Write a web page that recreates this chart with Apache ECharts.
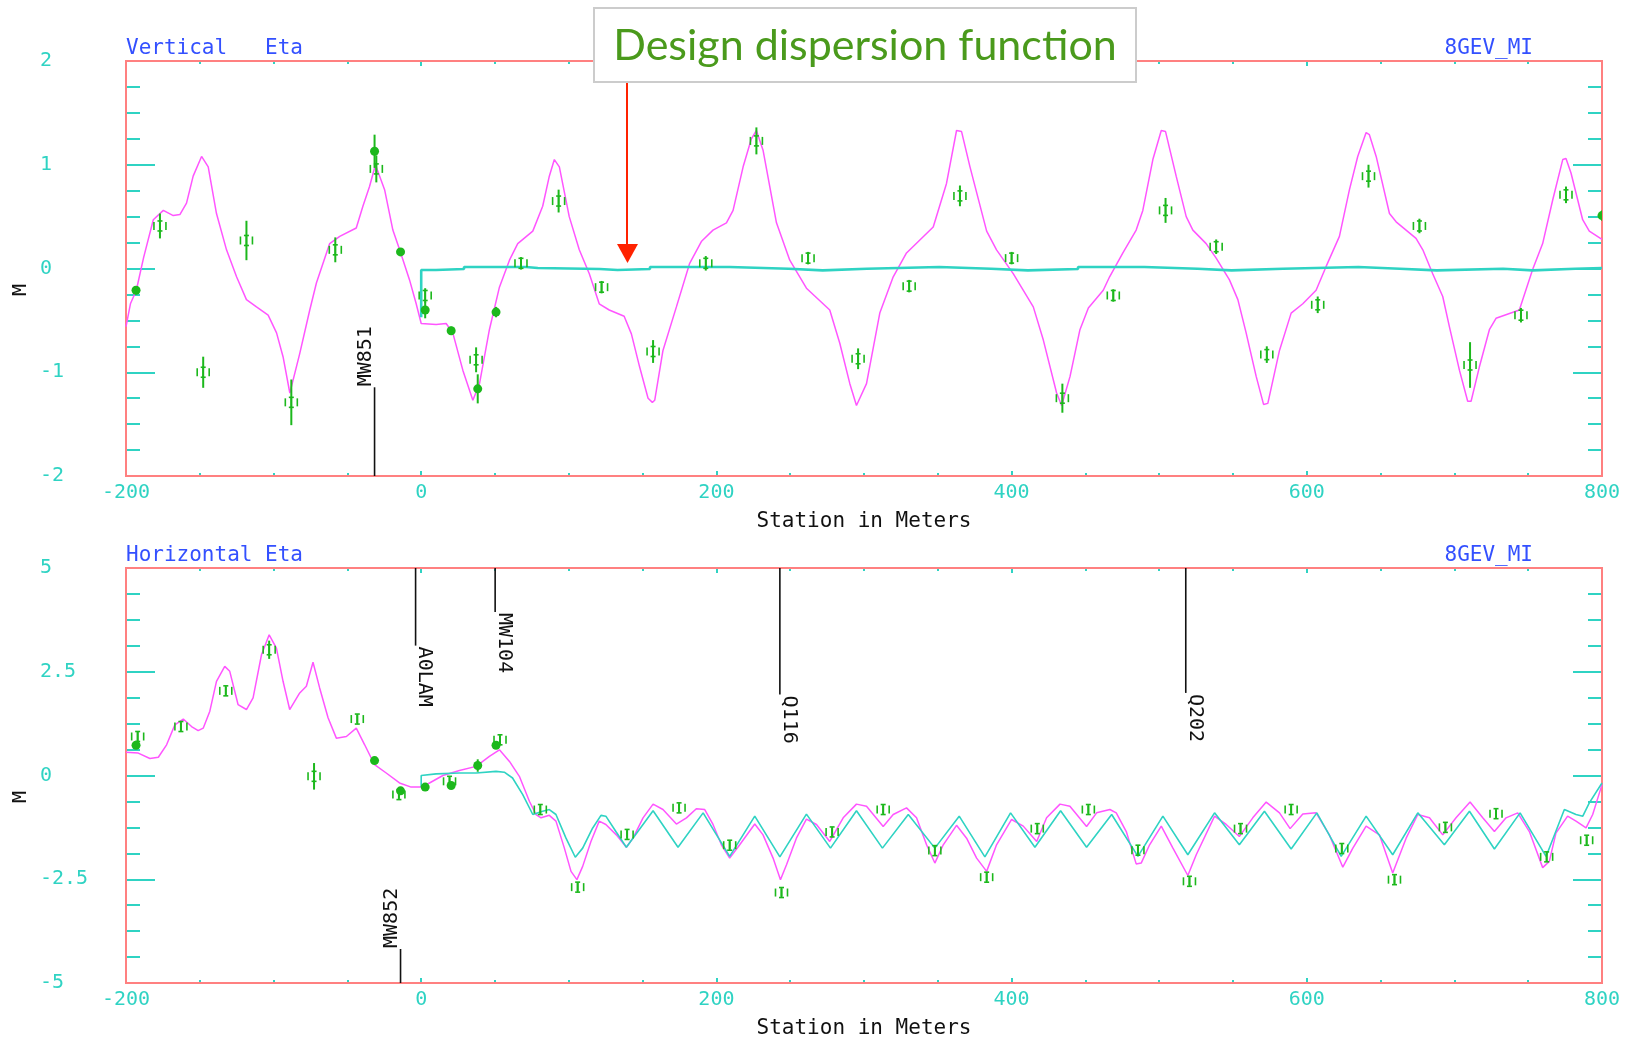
<!DOCTYPE html>
<html><head><meta charset="utf-8">
<script src="https://cdn.jsdelivr.net/npm/echarts@6/dist/echarts.min.js"></script>
<style>html,body{margin:0;padding:0;background:#fff;}#c{width:1633px;height:1039px;}</style>
</head><body><div id="c"></div>
<script>
// ---------------- data ----------------
const stationRange = [-200, 800];
const stationStep = 200;
const vertRange = [-2, 2];
const vertStep = 1;
const horRange = [-5, 5];
const horStep = 2.5;

// Vertical eta: fitted / measured-model curve (magenta)
const vertFit = [[-200,-0.56],[-197,-0.34],[-193,-0.21],[-188,0.11],[-181.5,0.47],[-174.7,0.56],[-168,0.51],[-163.5,0.52],[-159,0.63],[-154.5,0.89],[-148.8,1.08],[-144.3,0.98],[-138.7,0.53],[-131.9,0.18],[-125.1,-0.08],[-118.4,-0.30],[-111.6,-0.37],[-103.7,-0.45],[-98,-0.62],[-93.6,-0.85],[-89,-1.20],[-82.3,-0.82],[-75.5,-0.40],[-71,-0.14],[-62,0.24],[-55.2,0.31],[-44,0.39],[-39.5,0.60],[-35,0.79],[-31,1.0],[-24.8,0.76],[-19.2,0.37],[-14.6,0.18],[-7.9,-0.11],[-3.4,-0.34],[0,-0.53],[1.1,-0.54],[10.1,-0.54],[16.9,-0.53],[21.4,-0.62],[28.2,-0.98],[35,-1.27],[39.5,-1.11],[46.2,-0.59],[53,-0.18],[59.8,0.08],[65.4,0.24],[75.6,0.36],[82.3,0.60],[86.8,0.89],[90.2,1.05],[93.6,0.98],[100.3,0.50],[107.1,0.18],[113.9,-0.05],[120.6,-0.34],[127.4,-0.40],[137.5,-0.46],[142.4,-0.63],[148,-0.95],[153.7,-1.25],[156.6,-1.29],[158.2,-1.27],[163.8,-0.79],[172.9,-0.37],[181.9,0.05],[189.8,0.26],[197.7,0.37],[206.8,0.44],[211.3,0.56],[218.1,0.98],[223.7,1.25],[227.1,1.33],[231.6,1.14],[240.7,0.44],[249.7,0.08],[261,-0.19],[276.8,-0.40],[283.6,-0.72],[290.4,-1.11],[294.9,-1.32],[301.7,-1.11],[310.7,-0.43],[319.8,-0.08],[328.8,0.15],[346.9,0.40],[355.9,0.82],[362.7,1.33],[366.1,1.32],[371.8,0.98],[383.1,0.36],[389.8,0.18],[401.1,-0.05],[414.7,-0.37],[421.5,-0.69],[430.5,-1.20],[433.9,-1.32],[439.6,-1.04],[446.3,-0.59],[452,-0.38],[462.1,-0.21],[466.4,-0.08],[475.4,0.15],[484.4,0.37],[488.9,0.56],[495.7,1.05],[501.4,1.33],[504.3,1.32],[511.5,0.89],[518.3,0.50],[522.8,0.37],[531.8,0.24],[538.6,0.10],[547.6,-0.11],[553.3,-0.30],[558.9,-0.62],[565.7,-1.04],[570.7,-1.31],[573.6,-1.30],[581.5,-0.79],[589.4,-0.43],[597.3,-0.34],[606.3,-0.21],[613.1,0.02],[622.1,0.31],[628.9,0.76],[634.5,1.08],[640.2,1.31],[642.4,1.29],[647,1.08],[656,0.53],[660.5,0.45],[674,0.29],[678.6,0.18],[685.3,-0.05],[692.1,-0.27],[696.6,-0.56],[703.4,-0.98],[709,-1.28],[711.3,-1.28],[716.9,-0.95],[723.7,-0.59],[728.2,-0.48],[744,-0.40],[753,-0.01],[759.8,0.24],[766.6,0.66],[773.4,1.05],[775.6,1.06],[779,0.92],[786.9,0.47],[791.4,0.36],[800,0.28]];

// Vertical eta: design dispersion (cyan, stepwise)
const vertDesign = [[0,-0.47],[0,-0.015],[10,-0.005],[29,0.015],[71,0.005],[79,-0.005],[121,-0.015],[133,-0.005],[155,0.015],[209,-0.002],[249,-0.018],[272,-0.002],[302,0.015],[351,-0.002],[386,-0.018],[411,-0.005],[445,0.015],[490,-0.002],[526,-0.018],[549,-0.002],[584,0.015],[635,-0.002],[663,-0.018],[688,-0.002],[733,-0.018],[753,-0.002],[782,0.005],[800,0.005]];

// Vertical eta: BPM measurements [station, eta, error]
const vertMeasOpen = [[-177,0.41,0.12],[-147.7,-1.00,0.15],[-118.4,0.27,0.19],[-88,-1.29,0.22],[-58.2,0.18,0.12],[-30.4,0.96,0.13],[2.7,-0.26,0.07],[37.2,-0.88,0.12],[67.6,0.05,0.06],[93.1,0.65,0.11],[122.2,-0.18,0.06],[157.1,-0.80,0.11],[192.8,0.05,0.07],[227.1,1.23,0.13],[262.1,0.10,0.06],[296,-0.87,0.10],[330.6,-0.17,0.06],[365,0.70,0.10],[400,0.10,0.06],[434.4,-1.25,0.14],[468.9,-0.26,0.06],[504.3,0.56,0.12],[538.6,0.21,0.07],[572.9,-0.83,0.08],[607.4,-0.35,0.08],[641.8,0.89,0.11],[676.3,0.41,0.07],[710.6,-0.93,0.22],[745.1,-0.45,0.07],[775.6,0.71,0.08]];
const vertMeasFilled = [[-193.2,-0.21,0.04],[-31.6,1.13,0.16],[-14,0.16,0.03],[2.7,-0.40,0.08],[20.3,-0.60,0.04],[38.3,-1.16,0.14],[50.7,-0.42,0.05],[800,0.51,0.05]];

// Vertical eta: element markers [station, from, to]
const vertElements = [[-31.6,-2,-1.145]];
const vertElementNames = ['MW851'];

// Horizontal eta: fitted curve (magenta)
const horFit = [[-200,0.56],[-191.7,0.54],[-183.8,0.41],[-178.1,0.44],[-172.5,0.74],[-166.9,1.22],[-161.2,1.36],[-155.6,1.18],[-151.1,1.08],[-147.7,1.14],[-143.2,1.55],[-138.7,2.27],[-133.1,2.63],[-129.7,2.51],[-124.1,1.71],[-118.4,1.59],[-113.9,1.87],[-108.2,2.91],[-103,3.39],[-98.1,3.07],[-93.6,2.27],[-89.1,1.59],[-82.3,1.99],[-77.8,2.15],[-73.3,2.73],[-68.8,2.11],[-63.1,1.39],[-57.5,0.90],[-50.7,0.94],[-44,1.14],[-38.3,0.74],[-31.6,0.26],[-23.7,0.06],[-14.7,-0.18],[-6.8,-0.28],[0,-0.28],[5.6,-0.18],[14.7,0],[25.9,0.12],[37.2,0.22],[46.2,0.46],[53,0.62],[59.8,0.34],[66.5,-0.02],[73.3,-0.62],[77.8,-0.94],[81.2,-1.02],[86.8,-0.96],[91.3,-1.10],[97,-1.75],[101.5,-2.31],[105.5,-2.51],[109.4,-2.19],[115,-1.59],[120.6,-1.10],[125.1,-1.18],[132.2,-1.43],[139,-1.73],[143.5,-1.51],[150.3,-1.02],[157.1,-0.69],[163.8,-0.82],[172.9,-1.17],[179.7,-1.02],[186.4,-0.80],[192.1,-0.82],[197.7,-1.18],[203.4,-1.67],[209,-1.99],[215.8,-1.67],[226,-1.17],[231.6,-1.43],[238.4,-1.99],[243.4,-2.51],[247.5,-2.15],[254.2,-1.51],[261,-1.05],[267.8,-1.18],[276.8,-1.59],[285.9,-1.02],[294.9,-0.69],[301.7,-0.74],[313,-1.23],[319.8,-0.94],[328.8,-0.78],[335.6,-1.02],[342.4,-1.67],[348,-2.11],[353.7,-1.67],[362.7,-1.20],[369.5,-1.51],[376.3,-1.99],[383.1,-2.31],[389.8,-1.67],[400,-1.06],[407.9,-1.22],[417,-1.59],[423.7,-1.02],[432.8,-0.69],[439.5,-0.74],[450.8,-1.23],[457.6,-0.90],[466.6,-0.82],[470.9,-0.90],[477.7,-1.35],[484.4,-2.13],[487.8,-2.11],[493.5,-1.67],[501.4,-1.22],[509.3,-1.75],[519.4,-2.41],[525.1,-1.91],[537.5,-0.98],[545.4,-1.18],[554.3,-1.47],[563.4,-1.02],[572.5,-0.64],[581.5,-0.90],[588.7,-1.28],[597.3,-0.93],[606.3,-0.90],[615.3,-1.43],[624.4,-2.21],[631.2,-1.75],[640.2,-1.22],[649.2,-1.43],[658.2,-2.35],[667.3,-1.51],[675.2,-0.94],[683.1,-1.02],[692.1,-1.43],[701.1,-1.02],[710.6,-0.64],[719.2,-1.02],[727.1,-1.35],[735,-1.02],[742.9,-0.90],[750.8,-1.35],[759.8,-2.22],[764.3,-2.07],[768.8,-1.39],[776.7,-0.98],[782.4,-1.10],[789.2,-1.26],[793.7,-0.94],[800,-0.22]];

// Horizontal eta: design dispersion (cyan)
const horDesign = [[0,-0.28],[0,0.0],[10.1,0.04],[25.9,0.06],[37.2,0.06],[50.7,0.10],[56.3,0.08],[61.9,-0.06],[68.8,-0.46],[75.6,-0.94],[82.3,-0.86],[86.8,-0.82],[91.3,-0.94],[98.1,-1.51],[104.4,-1.97],[109.4,-1.75],[116.1,-1.27],[121.8,-0.96],[125.1,-0.98],[131.9,-1.35],[139,-1.73],[157.1,-0.85],[174,-1.73],[191,-0.90],[209,-1.95],[226,-0.98],[243,-1.96],[261,-0.93],[277.3,-1.75],[294.9,-0.85],[312.5,-1.75],[330,-0.94],[348,-1.75],[364.5,-0.98],[381.9,-1.96],[399.3,-0.90],[415.8,-1.73],[433.2,-0.85],[450.8,-1.73],[467.8,-0.94],[485.6,-1.95],[502.5,-0.98],[519.4,-1.91],[537.5,-0.90],[554.3,-1.67],[571.3,-0.86],[589.4,-1.77],[606.8,-0.90],[623.3,-1.95],[640.2,-0.98],[658.2,-1.91],[675.2,-0.90],[693.2,-1.67],[710.2,-0.86],[727.1,-1.77],[744.5,-0.90],[762.1,-1.95],[774.5,-0.82],[782.4,-0.94],[787,-0.98],[791.4,-0.66],[800,-0.18]];

// Horizontal eta: BPM measurements [station, eta, error]
const horMeasOpen = [[-192.1,0.94,0.12],[-162.8,1.18,0.1],[-132.4,2.04,0.1],[-103,3.03,0.22],[-72.6,-0.02,0.32],[-43.3,1.36,0.1],[-15.1,-0.46,0.1],[19.2,-0.14,0.1],[53.4,0.86,0.1],[80.7,-0.82,0.1],[106,-2.69,0.1],[139.5,-1.42,0.1],[174.7,-0.78,0.1],[209,-1.68,0.1],[244.1,-2.82,0.1],[278.4,-1.36,0.1],[313,-0.82,0.1],[348,-1.81,0.1],[383.1,-2.45,0.1],[417.4,-1.28,0.1],[452,-0.82,0.1],[485.6,-1.80,0.1],[520.5,-2.55,0.1],[555.1,-1.28,0.1],[589.4,-0.82,0.1],[623.7,-1.76,0.1],[659.4,-2.51,0.1],[693.9,-1.25,0.1],[728.2,-0.92,0.1],[762.5,-1.96,0.1],[789.6,-1.56,0.1]];
const horMeasFilled = [[-193.2,0.73,0.05],[-31.6,0.36,0.05],[-14,-0.37,0.08],[2.7,-0.28,0.05],[20.3,-0.24,0.08],[38.3,0.24,0.15],[50.7,0.73,0.05]];

// Horizontal eta: element markers [station, from, to]
const horElements = [[-3.8,5,3.13],[50.1,5,3.94],[243,5,1.95],[518,5,1.99],[-14,-5,-4.18]];
const horElementNames = ['A0LAM','MW104','Q116','Q202','MW852'];

// ---------------- styles ----------------
const MONO = '"DejaVu Sans Mono", "Liberation Mono", monospace';
const CYAN = '#2fd3c3';
const BORDER = '#ff8080';
const MAGENTA = '#ff55ff';
const GREEN = '#1cb81c';
const BLUE = '#3350ff';

function xAx(grid, pos, main) {
  return {
    type: 'value', gridIndex: grid, position: pos, z: 0,
    min: stationRange[0], max: stationRange[1], interval: stationStep,
    axisLine: {show: true, onZero: false, lineStyle: {color: BORDER, width: 2}},
    axisTick: {show: true, inside: true, length: 5, lineStyle: {color: CYAN, width: 2}},
    minorTick: {show: true, splitNumber: 4, length: 3, lineStyle: {color: CYAN, width: 2}},
    splitLine: {show: false}, minorSplitLine: {show: false},
    axisLabel: {show: main, color: CYAN, fontFamily: MONO, fontSize: 20, margin: 7},
    name: main ? 'Station in Meters' : '', nameLocation: 'middle', nameGap: 35,
    nameTextStyle: {color: '#111', fontFamily: MONO, fontSize: 21}
  };
}
function yAx(grid, pos, main, range, step) {
  return {
    type: 'value', gridIndex: grid, position: pos, z: 0,
    min: range[0], max: range[1], interval: step,
    axisLine: {show: true, onZero: false, lineStyle: {color: BORDER, width: 2}},
    axisTick: {show: true, inside: true, length: 29, lineStyle: {color: CYAN, width: 2}},
    minorTick: {show: true, splitNumber: 4, length: 14, lineStyle: {color: CYAN, width: 2}},
    splitLine: {show: false}, minorSplitLine: {show: false},
    axisLabel: {show: main, color: CYAN, fontFamily: MONO, fontSize: 20, align: 'left', margin: 86}
  };
}

function renderOpen(params, api) {
  const x = api.value(0), y = api.value(1), e = api.value(2);
  const c = api.coord([x, y]);
  const t = api.coord([x, y + e]);
  const b = api.coord([x, y - e]);
  const cx = c[0], cy = c[1];
  const st = {stroke: GREEN, lineWidth: 1.6};
  return {type: 'group', children: [
    {type: 'line', shape: {x1: cx, y1: t[1], x2: cx, y2: b[1]}, style: {stroke: GREEN, lineWidth: 2}},
    {type: 'line', shape: {x1: cx, y1: cy - 5, x2: cx, y2: cy + 5}, style: st},
    {type: 'line', shape: {x1: cx - 2.5, y1: cy - 5, x2: cx + 2.5, y2: cy - 5}, style: st},
    {type: 'line', shape: {x1: cx - 2.5, y1: cy + 5, x2: cx + 2.5, y2: cy + 5}, style: st},
    {type: 'line', shape: {x1: cx - 6, y1: cy - 4, x2: cx - 6, y2: cy + 4}, style: st},
    {type: 'line', shape: {x1: cx + 6, y1: cy - 4, x2: cx + 6, y2: cy + 4}, style: st}
  ]};
}
function renderFilled(params, api) {
  const x = api.value(0), y = api.value(1), e = api.value(2);
  const c = api.coord([x, y]);
  const t = api.coord([x, y + e]);
  const b = api.coord([x, y - e]);
  return {type: 'group', children: [
    {type: 'line', shape: {x1: c[0], y1: t[1], x2: c[0], y2: b[1]}, style: {stroke: GREEN, lineWidth: 2}},
    {type: 'circle', shape: {cx: c[0], cy: c[1], r: 4.5}, style: {fill: GREEN}}
  ]};
}
function renderElem(names) {
  return function (params, api) {
    const x = api.value(0), y0 = api.value(1), y1 = api.value(2);
    const p0 = api.coord([x, y0]), p1 = api.coord([x, y1]);
    const up = y1 > y0;
    return {type: 'group', children: [
      {type: 'line', shape: {x1: p0[0], y1: p0[1], x2: p1[0], y2: p1[1]}, style: {stroke: '#111', lineWidth: 1.6}},
      {type: 'text', x: p1[0] + (up ? 1 : -1), y: p1[1] + (up ? -1 : 1), rotation: up ? Math.PI / 2 : -Math.PI / 2,
        style: {text: names[params.dataIndex], fill: '#111', font: '20px ' + MONO,
          align: 'left', verticalAlign: 'bottom', textAlign: 'left', textVerticalAlign: 'bottom'}}
    ]};
  };
}

function lineSeries(data, xi, color, width, step) {
  return {type: 'line', xAxisIndex: xi, yAxisIndex: xi, data: data, showSymbol: false, symbol: 'none',
    step: step || false, lineStyle: {color: color, width: width}, itemStyle: {color: color}, z: 3, animation: false, silent: true};
}
function customSeries(data, xi, fn, clip) {
  return {type: 'custom', coordinateSystem: 'cartesian2d', xAxisIndex: xi, yAxisIndex: xi, data: data,
    renderItem: fn, clip: clip, z: 5, animation: false, silent: true};
}

function txt(x, y, s, color, align, rot, size) {
  return {type: 'text', x: x, y: y, rotation: rot || 0, z: 50,
    style: {text: s, fill: color, font: (size || 21) + 'px ' + MONO, align: align, verticalAlign: 'middle', textAlign: align, textVerticalAlign: 'middle'}};
}

const gridBox = {containLabel: false, outerBoundsMode: 'none', show: true, z: 1,
  backgroundColor: 'rgba(0,0,0,0)', borderColor: BORDER, borderWidth: 2};

const chart = echarts.init(document.getElementById('c'), null, {renderer: 'canvas'});
chart.setOption({
  backgroundColor: '#ffffff',
  animation: false,
  grid: [
    Object.assign({left: 126, top: 61, width: 1476, height: 415}, gridBox),
    Object.assign({left: 126, top: 568, width: 1476, height: 415}, gridBox)
  ],
  xAxis: [xAx(0, 'bottom', true), xAx(0, 'top', false), xAx(1, 'bottom', true), xAx(1, 'top', false)],
  yAxis: [yAx(0, 'left', true, vertRange, vertStep), yAx(0, 'right', false, vertRange, vertStep),
          yAx(1, 'left', true, horRange, horStep), yAx(1, 'right', false, horRange, horStep)],
  series: [
    lineSeries(vertFit, 0, MAGENTA, 1.5),
    lineSeries(vertDesign, 0, CYAN, 2.6, 'end'),
    customSeries(vertElements, 0, renderElem(vertElementNames), false),
    customSeries(vertMeasOpen, 0, renderOpen, true),
    customSeries(vertMeasFilled, 0, renderFilled, true),
    lineSeries(horFit, 2, MAGENTA, 1.5),
    lineSeries(horDesign, 2, CYAN, 1.6),
    customSeries(horElements, 2, renderElem(horElementNames), false),
    customSeries(horMeasOpen, 2, renderOpen, true),
    customSeries(horMeasFilled, 2, renderFilled, true)
  ],
  graphic: [
    txt(126, 49, 'Vertical   Eta', BLUE, 'left'),
    txt(1533, 49, '8GEV_MI', BLUE, 'right'),
    txt(126, 556, 'Horizontal Eta', BLUE, 'left'),
    txt(1533, 556, '8GEV_MI', BLUE, 'right'),
    txt(21, 290, 'M', '#111', 'center', Math.PI / 2, 20),
    txt(21, 797, 'M', '#111', 'center', Math.PI / 2, 20),
    {type: 'rect', z: 100, shape: {x: 594, y: 8, width: 542, height: 74},
      style: {fill: '#ffffff', stroke: '#cccccc', lineWidth: 2}},
    {type: 'text', z: 101, x: 865, y: 46,
      style: {text: 'Design dispersion function', fill: '#4a9a1c', font: '43px Lato, "Noto Sans", sans-serif',
        align: 'center', verticalAlign: 'middle', textAlign: 'center', textVerticalAlign: 'middle'}},
    {type: 'line', z: 100, shape: {x1: 627, y1: 83, x2: 627, y2: 246}, style: {stroke: '#ff2200', lineWidth: 2}},
    {type: 'polygon', z: 100, shape: {points: [[617, 244], [638, 244], [627.5, 263]]}, style: {fill: '#ff2200'}}
  ]
});
</script>
</body></html>
